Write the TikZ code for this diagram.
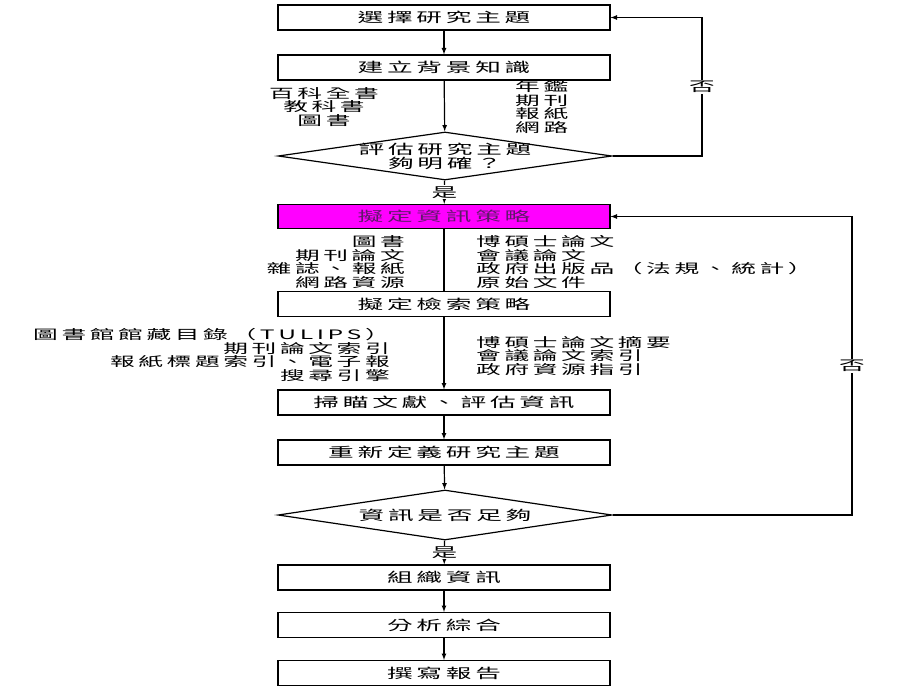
\documentclass[tikz,border=0pt]{standalone}
\usepackage{fontspec}
\setmainfont{Noto Sans CJK TC}[FakeStretch=1.9,LetterSpace=28]
\usetikzlibrary{shapes.geometric}
\definecolor{infomag}{RGB}{255,0,255}
\definecolor{infotxt}{RGB}{95,25,105}
\tikzset{ % common looks of the flow chart
	stage/.style={draw, line width=1.2pt, minimum width=332pt, minimum height=25pt, inner sep=0pt,
		font=\fontsize{13.5}{13.5}\selectfont},
	check/.style={draw, line width=1.2pt, diamond, minimum width=334pt, minimum height=48pt, inner sep=0pt},
	checktext/.style={align=center, inner sep=0pt, font=\fontsize{13.5}{14}\selectfont},
	side/.style={inner sep=0pt, font=\fontsize{13}{13.5}\selectfont},
	flow/.style={line width=1.2pt, -latex},
	answer/.style={fill=white, inner sep=1pt, font=\fontsize{13.5}{13.5}\selectfont}
}
\begin{document}
\begin{tikzpicture}[x=1pt,y=-1pt]
		\useasboundingbox (0,0) rectangle (920,690);
		% Stages
		\node [stage] (topic) at (444,17.5) {選擇研究主題};
		\node [stage] (background) at (444,67.5) {建立背景知識};
		\node [check] (clear) at (445,156) {};
		\node [checktext] at (clear) {評估研究主題\\夠明確？};
		\node [stage, fill=infomag, text=infotxt, minimum height=24pt] (infostrat) at (444,216.5) {擬定資訊策略};
		\node [stage] (searchstrat) at (444,304) {擬定檢索策略};
		\node [stage] (scan) at (444,402.5) {掃瞄文獻、評估資訊};
		\node [stage] (redefine) at (444,452.5) {重新定義研究主題};
		\node [check, minimum height=50pt] (enough) at (445,515) {};
		\node [checktext] at (enough) {資訊是否足夠};
		\node [stage] (organize) at (444,577.5) {組織資訊};
		\node [stage] (analyze) at (444,625) {分析綜合};
		\node [stage] (report) at (444,673) {撰寫報告};
		% Sources beside the flow
		\node [side, align=center] (bgleft) at (324,107) {百科全書\\教科書\\圖書};
		\node [side, align=left, anchor=west] (bgright) at (515,107) {年鑑\\期刊\\報紙\\網路};
		\node [side, align=right, anchor=east] (infoleft) at (405,262) {圖書\\期刊論文\\雜誌、報紙\\網路資源};
		\node [side, align=left, anchor=west] (inforight) at (476,262) {博碩士論文\\會議論文\\政府出版品（法規、統計）\\原始文件};
		\node [side, align=right, anchor=east] (searchleft) at (390,355) {圖書館館藏目錄（TULIPS）\\期刊論文索引\\報紙標題索引、電子報\\搜尋引擎};
		\node [side, align=left, anchor=west] (searchright) at (476,356) {博碩士論文摘要\\會議論文索引\\政府資源指引};
		% Loop corners
		\coordinate (backone) at (702,156);
		\coordinate (backtwo) at (852,515);
		% Connectors
		\draw [flow] (topic) -- (background);
		\draw [flow] (background) -- (clear);
		\draw [flow] (clear) -- node [answer] {是} (infostrat);
		\draw [flow] (clear.east) -- (backone) |- node [answer, pos=0.25] {否} (topic.east);
		\draw [line width=1.2pt] (infostrat) -- (searchstrat);
		\draw [flow] (searchstrat) -- (scan);
		\draw [flow] (scan) -- (redefine);
		\draw [flow] (redefine) -- (enough);
		\draw [flow] (enough) -- node [answer] {是} (organize);
		\draw [flow] (enough.east) -- (backtwo) |- node [answer, pos=0.25] {否} (infostrat.east);
		\draw [flow] (organize) -- (analyze);
		\draw [flow] (analyze) -- (report);
		\end{tikzpicture}
\end{document}
